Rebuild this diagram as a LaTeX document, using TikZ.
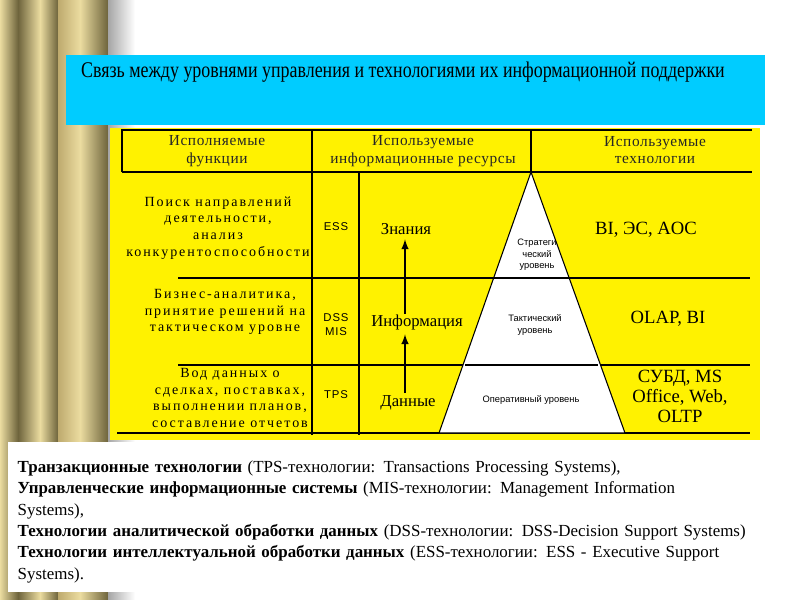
\documentclass[tikz,border=0pt]{standalone}
\usepackage{fontspec}
\setmainfont{Liberation Serif}
\setsansfont{Liberation Sans}
\begin{document}
\begin{tikzpicture}[x=0.75pt,y=-0.75pt,
  ln/.style={black,line width=0.8pt},
  hd/.style={font=\fontsize{11.5}{13}\selectfont\addfontfeature{LetterSpace=4},align=center,text=black!85},
  lc/.style={font=\fontsize{10.5}{12.5}\selectfont\addfontfeature{LetterSpace=14},align=center},
  sm/.style={font=\sffamily\fontsize{7}{8.5}\selectfont,align=center},
  ab/.style={font=\sffamily\fontsize{8.5}{10.5}\selectfont\addfontfeature{LetterSpace=8},align=center},
  rs/.style={font=\fontsize{12.5}{14}\selectfont},
  tc/.style={font=\fontsize{14}{15}\selectfont,align=center}]
\useasboundingbox (0,0) rectangle (800,600);
\fill[white] (0,0) rectangle (800,600);
\definecolor{gd}{RGB}{110,100,60}\definecolor{gl}{RGB}{235,220,160}\definecolor{gm}{RGB}{190,170,110}
\shade[left color=gl,right color=gd] (0,0) rectangle (18,600);
\shade[left color=gd,right color=gl] (18,0) rectangle (40,600);
\shade[left color=gl,right color=gd] (40,0) rectangle (58,600);
\shade[left color=gm,right color=gl] (58,0) rectangle (80,600);
\shade[left color=gl,right color=gd] (80,0) rectangle (108,600);
\shade[left color=gray!70,right color=white] (108,0) rectangle (135,600);
\definecolor{ban}{RGB}{0,204,255}\fill[ban] (66,55) rectangle (765,125);
\node[anchor=center,font=\fontsize{16.8}{18}\selectfont] (title) at (403,72) {\scalebox{0.8}[1]{Связь между уровнями управления и технологиями их информационной поддержки}};
\fill[yellow] (110,128) rectangle (760,440);
\fill[white] (8,442) rectangle (780,592);
\draw[ln] (122,172) -- (122,130) -- (752,130);
\draw[ln] (122,172) -- (752,172);
\draw[ln] (312,130) -- (312,172);
\draw[ln] (531,130) -- (531,172);
\node[hd] (h1) at (217,151) {Исполняемые\\функции};
\node[hd] (h2) at (423,151) {Используемые\\информационные ресурсы};
\node[hd] (h3) at (655,150) {Используемые\\технологии};
\draw[ln] (312,172) -- (312,435);
\draw[ln] (359,172) -- (359,435);
\draw[ln] (178,278) -- (750,278);
\draw[ln] (178,365) -- (750,365);
\draw[ln] (117,433) -- (750,433);
\coordinate (apex) at (531,172);
\coordinate (bl) at (439,433);
\coordinate (br) at (625,433);
\filldraw[fill=white,draw=black,line width=0.8pt] (apex) -- (bl) -- (br) -- cycle;
\draw[ln] (457,278) -- (605,278);
\draw[ln] (465,365) -- (598,365);
\node[lc] (f1) at (218,228) {Поиск направлений\\деятельности,\\анализ\\конкурентоспособности};
\node[lc] (f2) at (225,312) {Бизнес-аналитика,\\принятие решений на\\тактическом уровне};
\node[lc] (f3) at (230,398) {Вод данных о\\сделках, поставках,\\выполнении планов,\\составление отчетов};
\node[ab] (s1) at (336,227) {ESS};
\node[ab] (s2) at (336,325) {DSS\\MIS};
\node[ab] (s3) at (336,395) {TPS};
\node[rs] (r1) at (406,229) {Знания};
\node[rs] (r2) at (417,322) {Информация};
\node[rs] (r3) at (408,403) {Данные};
\draw[-latex,line width=1.5pt] (405,393) -- (r2.south -| 405,0);
\draw[-latex,line width=1.5pt] (405,314) -- (r1.south -| 405,0);
\node[sm] (p1) at (537,255) {Стратеги\\ческий\\уровень};
\node[sm] (p2) at (535,325) {Тактический\\уровень};
\node[sm] (p3) at (531,400) {Оперативный уровень};
\node[tc] (t1) at (646,230) {BI, ЭС, AOC};
\node[tc] (t2) at (668,319) {OLAP, BI};
\node[tc] (t3) at (680,396) {СУБД, MS\\Office, Web,\\OLTP};
\node[anchor=north west,text width=770,align=left,font=\fontsize{12.7}{16}\selectfont] (txt) at (13,456)
{\textbf{Транзакционные технологии} (TPS-технологии: Transactions Processing Systems),\\
\textbf{Управленческие информационные системы} (MIS-технологии: Management Information\\Systems),\\
\textbf{Технологии аналитической обработки данных} (DSS-технологии: DSS-Decision Support Systems)\\
\textbf{Технологии интеллектуальной обработки данных} (ESS-технологии: ESS - Executive Support\\Systems).};
\end{tikzpicture}
\end{document}
